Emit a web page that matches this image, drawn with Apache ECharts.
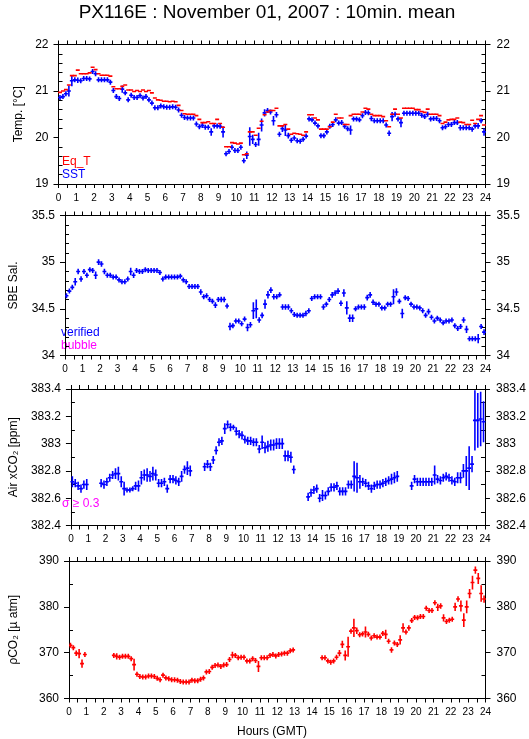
<!DOCTYPE html>
<html><head><meta charset="utf-8">
<script src="https://cdn.jsdelivr.net/npm/echarts@6/dist/echarts.min.js"></script>
<style>html,body{margin:0;padding:0;background:#fff}#c{width:529px;height:739px}</style>
</head><body><div id="c"></div>
<script>
// ---- data: 10-minute means, slot i covers hours [i/6, (i+1)/6] ----
const hourLabels = ['0','1','2','3','4','5','6','7','8','9','10','11','12','13','14','15','16','17','18','19','20','21','22','23','24'];

const eqT = [
20.97,21.0,21.03,21.13,21.33,21.33,21.45,21.37,21.37,21.37,21.39,21.51,
21.46,21.37,21.34,21.34,21.34,21.32,21.09,21.05,21.05,21.1,21.13,21.02,
21.02,20.99,21.01,20.99,21.02,20.99,21.01,20.96,20.85,20.81,20.8,20.78,
20.78,20.77,20.78,20.77,20.69,20.58,20.51,20.5,20.5,20.5,20.47,20.39,
20.32,20.32,20.34,20.3,20.3,20.39,20.3,20.22,19.8,19.8,19.89,19.88,
19.86,19.88,19.63,19.65,20.12,20.12,20.05,20.2,20.35,20.49,20.55,20.58,
20.58,20.63,20.25,20.25,20.28,20.18,20.07,20.09,20.08,20.07,20.05,20.12,
20.49,20.49,20.42,20.38,20.18,20.18,20.18,20.23,20.33,20.5,20.42,20.42,
20.28,20.28,20.47,20.5,20.5,20.5,20.55,20.63,20.61,20.5,20.47,20.47,
20.47,20.45,20.36,20.23,20.5,20.61,20.5,20.42,20.63,20.63,20.63,20.63,
20.6,20.6,20.56,20.54,20.61,20.5,20.5,20.5,20.47,20.3,20.33,20.38,
20.39,20.39,20.42,20.33,20.32,20.28,20.28,20.37,20.3,20.39,20.47,20.27];

const sst = [
20.86,20.88,20.94,21.0,21.22,21.24,21.23,21.22,21.27,21.27,21.26,21.42,
21.37,21.24,21.24,21.24,21.24,21.19,21.01,20.88,20.84,21.04,20.96,20.81,
20.91,20.86,20.86,20.9,20.85,20.88,20.81,20.74,20.64,20.64,20.68,20.66,
20.65,20.65,20.66,20.65,20.59,20.48,20.43,20.42,20.42,20.42,20.29,20.23,
20.26,20.22,20.22,20.12,20.25,20.25,20.24,20.12,19.65,19.7,19.79,19.72,
19.72,19.79,19.5,19.62,20.02,19.96,19.85,19.96,20.27,20.53,20.58,20.55,
20.36,20.49,20.07,20.19,20.16,20.04,19.94,19.99,19.93,19.92,19.96,20.03,
20.4,20.38,20.31,20.25,20.04,20.04,20.12,20.24,20.28,20.38,20.31,20.32,
20.24,20.19,20.16,20.4,20.4,20.38,20.47,20.54,20.53,20.41,20.36,20.36,
20.36,20.36,20.27,20.09,20.45,20.5,20.4,20.32,20.52,20.52,20.52,20.52,
20.52,20.52,20.48,20.45,20.5,20.4,20.41,20.41,20.36,20.21,20.23,20.28,
20.28,20.32,20.32,20.21,20.21,20.21,20.21,20.18,20.25,20.25,20.36,20.12];

const sstSd = [
0,0,0,0.12,0.12,0.05,0.06,0,0,0,0,0.04,
0,0.05,0,0,0,0.04,0,0,0,0.08,0.04,0.05,
0,0,0,0,0,0,0,0.04,0,0,0,0,
0,0,0,0,0,0,0,0,0,0,0.04,0,
0,0,0,0.08,0,0,0,0.12,0.04,0,0,0,
0,0,0.05,0.08,0.2,0.1,0.05,0.14,0.14,0.08,0.04,0,
0.1,0.06,0,0.07,0.13,0.06,0,0,0,0,0,0,
0.04,0,0,0,0,0.04,0,0,0,0,0,0,
0,0,0.1,0.05,0,0,0.05,0.05,0,0.06,0,0,
0,0,0,0.06,0.1,0,0,0.1,0,0,0,0,
0,0,0.04,0,0.05,0,0,0,0,0,0.04,0,
0.04,0,0,0.06,0.05,0.05,0,0.05,0,0.06,0,0.08];

const sal = [
34.64,34.69,34.73,34.79,34.9,34.82,34.9,34.86,34.92,34.91,34.86,35.0,
34.98,34.9,34.86,34.86,34.84,34.84,34.81,34.79,34.79,34.82,34.9,34.86,
34.91,34.9,34.9,34.92,34.91,34.91,34.91,34.91,34.89,34.82,34.84,34.84,
34.84,34.84,34.84,34.85,34.81,34.79,34.74,34.74,34.74,34.74,34.68,34.63,
34.64,34.6,34.58,34.54,34.6,34.6,34.6,34.53,34.31,34.32,34.37,34.37,
34.34,34.39,34.3,34.33,34.48,34.5,34.38,34.43,34.55,34.65,34.7,34.63,
34.63,34.65,34.52,34.52,34.52,34.48,34.44,34.43,34.43,34.43,34.45,34.48,
34.61,34.63,34.63,34.63,34.52,34.55,34.6,34.65,34.67,34.69,34.56,34.67,
34.51,34.4,34.4,34.5,34.52,34.52,34.52,34.62,34.65,34.57,34.55,34.55,
34.51,34.51,34.55,34.55,34.63,34.68,34.58,34.45,34.62,34.61,34.55,34.52,
34.52,34.51,34.48,34.43,34.47,34.41,34.37,34.4,34.38,34.35,34.37,34.37,
34.38,34.32,34.29,34.31,34.38,34.28,34.18,34.18,34.18,34.18,34.31,34.25];

const salSd = [
0,0,0,0.04,0.03,0.03,0,0,0,0,0.04,0.03,
0.03,0.03,0,0,0,0,0,0,0,0,0.04,0.03,
0,0,0,0,0,0,0,0,0,0,0,0,
0,0,0,0,0,0,0,0,0,0,0.03,0,
0,0,0,0.03,0,0.03,0.03,0,0.04,0,0,0,
0,0,0.04,0.03,0.09,0.1,0.03,0.03,0.05,0.04,0.03,0.03,
0,0,0.03,0.03,0.03,0,0,0,0,0,0.03,0,
0,0,0,0,0.03,0,0,0.03,0.03,0.03,0.03,0.04,
0.07,0.04,0.04,0,0,0,0.03,0.03,0.03,0.03,0,0,
0,0,0,0,0.08,0.04,0,0.05,0,0,0,0,
0,0,0,0,0.03,0,0,0,0,0,0,0,
0,0,0,0,0.03,0.04,0,0,0,0.05,0,0.03];

const airCO2 = [
382.72,382.71,382.69,382.67,382.70,382.70,null,null,null,null,382.71,382.70,
382.72,382.75,382.77,382.78,382.78,382.72,382.67,382.66,382.66,382.67,382.69,382.69,
382.75,382.77,382.77,382.76,382.78,382.77,382.71,382.71,382.72,382.67,382.74,382.74,
382.73,382.72,382.76,382.81,382.82,382.80,null,null,null,null,382.83,382.85,
382.83,382.88,382.95,383.01,383.02,383.11,383.14,383.12,383.12,383.09,383.07,383.06,
383.03,383.02,383.02,383.01,383.01,382.96,383.01,382.97,382.98,382.99,382.99,383.0,
383.0,383.0,382.91,382.91,382.9,382.81,null,null,null,null,382.61,382.64,
382.66,382.67,382.60,382.62,382.62,382.65,382.68,382.68,382.69,382.65,382.65,382.65,
382.70,382.70,382.76,382.75,382.72,382.72,382.71,382.69,382.67,382.69,382.70,382.70,
382.71,382.72,382.73,382.74,382.75,382.76,null,null,null,null,382.69,382.74,
382.72,382.72,382.72,382.72,382.72,382.72,382.77,382.74,382.73,382.75,382.76,382.75,
382.73,382.72,382.75,382.75,382.80,382.80,382.82,382.85,383.17,383.17,383.18,383.16];

const airSd = [
0.04,0.03,0.03,0.03,0.03,0.04,0,0,0,0,0.03,0.03,
0.03,0.03,0.03,0.04,0.05,0.04,0.05,0,0,0,0.03,0.04,
0.05,0.04,0.05,0.04,0.05,0.04,0.03,0.03,0.03,0.03,0.03,0.03,
0.03,0.03,0.04,0.03,0.05,0.04,0,0,0,0,0.03,0.03,
0.03,0.03,0.03,0.03,0.03,0.04,0.03,0.03,0,0.03,0.03,0.03,
0.03,0.03,0.03,0.03,0.03,0.03,0.05,0.04,0.04,0.04,0.04,0.04,
0.04,0.04,0.04,0.04,0.04,0.03,0,0,0,0,0.03,0.03,
0.03,0.03,0.03,0.04,0.03,0.03,0.03,0.03,0.03,0.03,0.03,0.03,
0.03,0.03,0.11,0.11,0.05,0.03,0.03,0.03,0.03,0.03,0.03,0.03,
0.03,0.03,0.03,0.04,0.04,0.04,0,0,0,0,0.03,0.03,
0.03,0.03,0.03,0.03,0.03,0.03,0.07,0.03,0.03,0.03,0.03,0.03,
0.03,0.03,0.04,0.04,0.05,0.11,0.16,0.06,0.22,0.2,0.2,0.15];

const pco2 = [
371.6,371.1,369.9,369.8,367.6,369.6,null,null,null,null,null,null,
null,null,null,369.4,369.2,369.0,369.2,369.2,369.2,368.7,367.4,365.3,
364.8,364.7,364.7,364.9,364.9,364.8,364.4,364.1,365.1,364.5,364.3,364.1,
364.1,364.0,363.7,363.6,363.6,363.6,364.0,363.9,363.9,364.2,364.5,365.8,
365.9,366.8,367.2,367.3,367.0,367.3,367.4,368.5,369.5,369.4,368.9,369.0,
369.0,368.2,368.2,368.7,368.3,367.0,368.9,368.9,368.9,369.4,369.6,369.3,
369.6,369.7,369.9,369.9,370.4,370.6,null,null,null,null,null,null,
null,null,null,368.9,368.9,368.2,367.9,368.2,369.0,369.9,371.8,369.4,
371.3,374.7,375.4,374.8,373.9,374.1,374.5,374.0,373.2,373.7,373.4,373.4,
374.2,374.0,372.5,370.6,372.1,371.8,372.8,375.4,374.5,375.4,377.0,377.7,
377.6,377.9,377.9,379.7,379.2,379.2,380.9,379.9,380.2,377.6,376.8,377.1,
377.3,380.0,381.7,380.2,377.1,380.0,382.9,385.3,388.0,386.2,382.9,381.7];

const pco2Sd = [
0.3,0.4,0.6,1.0,0.9,0.4,0,0,0,0,0,0,
0,0,0,0.3,0.7,0.4,0.4,0.3,0.4,0.5,1.3,0.3,
0.3,0,0,0.3,0.3,0,0,0,0.4,0,0,0,
0,0,0,0,0,0,0,0,0,0,0.3,0.5,
0,0.3,0.5,0.4,0.3,0.5,0.4,0.3,0.7,0.5,0.4,0.5,
0.5,0.4,0.5,0.5,0.5,1.2,0.5,0.4,0.5,0.5,0.5,0.4,
0.4,0.4,0.4,0.4,0.3,0.3,0,0,0,0,0,0,
0,0,0,0.3,0.3,0.3,0.3,0.3,0.5,0.7,0.8,1.1,
2.2,0.4,2.0,0.7,0.4,0.4,1.2,0.3,0.3,0.4,0.4,0.3,
0.3,1.0,0.5,0.6,0.5,0.5,1.0,1.0,0.5,0.6,0.4,0.3,
0.3,0.3,0.3,0.3,0.4,0.4,0.3,0.8,0.6,0.8,0.4,0.3,
0.3,0.9,0.6,1.2,1.5,1.4,1.0,1.5,0.8,1.2,1.8,0.8];

// ---- build ----
const FONT = '"Liberation Sans", Arial, Helvetica, sans-serif';
const SLOTS_PER_HOUR = 6;
function toData(vals, sds) {
  const out = [];
  vals.forEach((v, i) => { if (v !== null) out.push([(i + 0.5) / SLOTS_PER_HOUR, v, sds ? sds[i] : 0]); });
  return out;
}
function crossRender(color, vertical) {
  return function (params, api) {
    const t = api.value(0), v = api.value(1), e = api.value(2);
    const half = 0.5 / SLOTS_PER_HOUR;
    const a = api.coord([t - half, v]), b = api.coord([t + half, v]);
    const children = [{ type: 'line', shape: { x1: a[0] - 0.5, y1: a[1], x2: b[0] + 0.5, y2: b[1] }, style: { stroke: color, lineWidth: 1.6 } }];
    if (vertical) {
      const c = api.coord([t, v]);
      let h = Math.abs(api.coord([t, v + e])[1] - c[1]);
      h = Math.max(h, 2.5);
      children.push({ type: 'line', shape: { x1: c[0], y1: c[1] - h, x2: c[0], y2: c[1] + h }, style: { stroke: color, lineWidth: 1.6 } });
    }
    return { type: 'group', children };
  };
}

const panels = [
  { top: 44.5, height: 139.5, min: 19, max: 22, interval: 1, minor: 5, name: 'Temp. [°C]', gap: 34 },
  { top: 215.5, height: 140, min: 34, max: 35.5, interval: 0.5, minor: 5, name: 'SBE Sal.', gap: 45 },
  { top: 389, height: 136.5, min: 382.4, max: 383.4, interval: 0.2, minor: 2, name: 'Air xCO₂ [ppm]', gap: 50 },
  { top: 561, height: 137.5, min: 360, max: 390, interval: 10, minor: 2, name: 'ρCO₂ [µ atm]', gap: 49 }
];

const grids = [], xAxes = [], yAxes = [];
const black = '#000';
panels.forEach((p, g) => {
  grids.push({ left: 58.5, right: 43.5, top: p.top, height: p.height, containLabel: false });
  const xBase = {
    type: 'value', gridIndex: g, min: 0, max: 24, interval: 1,
    axisLine: { show: true, lineStyle: { color: black, width: 1 } },
    axisTick: { show: true, length: 4, lineStyle: { color: black } },
    minorTick: { show: true, splitNumber: 2, length: 4, lineStyle: { color: black } },
    splitLine: { show: false }, minorSplitLine: { show: false }
  };
  xAxes.push(Object.assign({}, xBase, { position: 'bottom',
    axisLabel: { show: true, color: black, fontSize: 10, fontFamily: FONT, margin: 9,
      formatter: (val) => hourLabels[Math.round(val)] } }));
  xAxes.push(Object.assign({}, xBase, { position: 'top', axisLabel: { show: false } }));
  const yBase = { type: 'value', gridIndex: g, min: p.min, max: p.max, interval: p.interval,
    splitLine: { show: false }, minorSplitLine: { show: false } };
  ['left', 'right'].forEach(pos => {
    yAxes.push(Object.assign({}, yBase, { position: pos,
      axisLine: { show: true, lineStyle: { color: black } },
      axisTick: { show: true, length: 5, lineStyle: { color: black } },
      axisLabel: { show: true, color: black, fontSize: 12, fontFamily: FONT, margin: pos === 'left' ? 10 : 11 },
      name: pos === 'left' ? p.name : '', nameLocation: 'middle', nameGap: p.gap, nameRotate: 90,
      nameTextStyle: { color: black, fontSize: 12, fontFamily: FONT } }));
    yAxes.push(Object.assign({}, yBase, { position: pos,
      axisLine: { show: false }, axisLabel: { show: false },
      axisTick: { show: false, inside: true },
      minorTick: { show: true, splitNumber: p.minor, length: 4, lineStyle: { color: black } } }));
  });
});

function custom(g, data, color, vertical) {
  return { type: 'custom', xAxisIndex: 2 * g, yAxisIndex: 4 * g, data, clip: true, silent: true,
    renderItem: crossRender(color, vertical) };
}

const series = [
  custom(0, toData(sst, sstSd), '#0000ff', true),
  custom(0, toData(eqT, null), '#ff0000', false),
  custom(1, toData(sal, salSd), '#0000ff', true),
  custom(2, toData(airCO2, airSd), '#0000ff', true),
  custom(3, toData(pco2, pco2Sd), '#ff0000', true)
];

function txt(x, y, text, color, size, align) {
  return { type: 'text', x, y, silent: true,
    style: { text, fill: color, font: size + 'px ' + FONT, textAlign: align || 'left', textVerticalAlign: 'middle' } };
}

const chart = echarts.init(document.getElementById('c'), null, { renderer: 'canvas' });
chart.setOption({
  animation: false,
  backgroundColor: '#fff',
  grid: grids, xAxis: xAxes, yAxis: yAxes, series,
  graphic: [
    txt(267, 13, 'PX116E : November 01, 2007 : 10min. mean', black, 19, 'center'),
    txt(62, 162, 'Eq_T', '#ff0000', 12),
    txt(62, 175, 'SST', '#0000ff', 12),
    txt(61, 333, 'verified', '#0000ff', 12),
    txt(61, 346, 'bubble', '#ff00ff', 12),
    txt(62, 504, 'σ ≥ 0.3', '#ff00ff', 12),
    txt(272, 732, 'Hours (GMT)', black, 12, 'center')
  ]
});
</script>
</body></html>
